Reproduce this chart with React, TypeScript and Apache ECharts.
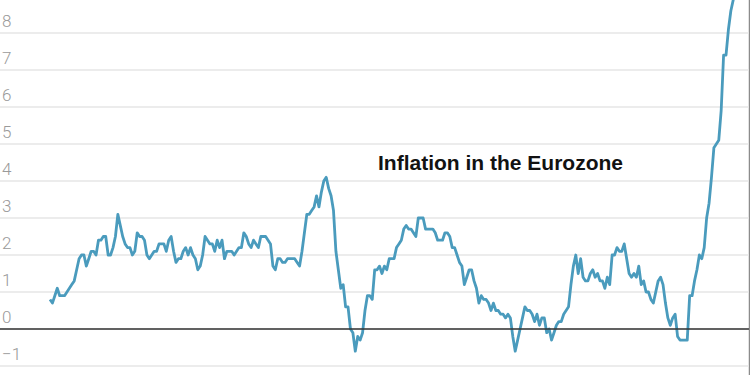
import React, { useEffect, useRef } from "react";
import * as echarts from "echarts";

// Euro area HICP, annual rate of change (%), monthly from Jan 1999
const y1999 = [0.8, 0.7, 0.9, 1.1, 0.9, 0.9, 0.9, 1.0, 1.1, 1.2, 1.3, 1.6];
const y2000 = [1.9, 2.0, 2.0, 1.7, 1.9, 2.1, 2.1, 2.0, 2.4, 2.4, 2.5, 2.5];
const y2001 = [2.0, 2.0, 2.2, 2.5, 3.1, 2.8, 2.5, 2.3, 2.2, 2.2, 2.0, 2.1];
const y2002 = [2.6, 2.5, 2.5, 2.4, 2.0, 1.9, 2.0, 2.1, 2.1, 2.3, 2.3, 2.3];
const y2003 = [2.1, 2.4, 2.5, 2.1, 1.8, 1.9, 1.9, 2.1, 2.2, 2.0, 2.2, 2.0];
const y2004 = [1.9, 1.6, 1.7, 2.0, 2.5, 2.4, 2.3, 2.3, 2.1, 2.4, 2.2, 2.4];
const y2005 = [1.9, 2.1, 2.1, 2.1, 2.0, 2.1, 2.2, 2.2, 2.6, 2.5, 2.3, 2.2];
const y2006 = [2.4, 2.3, 2.2, 2.5, 2.5, 2.5, 2.4, 2.3, 1.7, 1.6, 1.9, 1.9];
const y2007 = [1.8, 1.8, 1.9, 1.9, 1.9, 1.9, 1.8, 1.7, 2.1, 2.6, 3.1, 3.1];
const y2008 = [3.2, 3.3, 3.6, 3.3, 3.7, 4.0, 4.1, 3.8, 3.6, 3.2, 2.1, 1.6];
const y2009 = [1.1, 1.2, 0.6, 0.6, 0.0, -0.1, -0.6, -0.2, -0.3, -0.1, 0.5, 0.9];
const y2010 = [0.9, 0.8, 1.6, 1.6, 1.7, 1.5, 1.7, 1.6, 1.9, 1.9, 1.9, 2.2];
const y2011 = [2.3, 2.4, 2.7, 2.8, 2.7, 2.7, 2.6, 2.5, 3.0, 3.0, 3.0, 2.7];
const y2012 = [2.7, 2.7, 2.7, 2.6, 2.4, 2.4, 2.4, 2.6, 2.6, 2.5, 2.2, 2.2];
const y2013 = [2.0, 1.8, 1.7, 1.2, 1.4, 1.6, 1.6, 1.3, 1.1, 0.7, 0.9, 0.8];
const y2014 = [0.8, 0.7, 0.5, 0.7, 0.5, 0.5, 0.4, 0.4, 0.3, 0.4, 0.3, -0.2];
const y2015 = [-0.6, -0.3, 0.0, 0.3, 0.6, 0.5, 0.5, 0.4, 0.2, 0.4, 0.1, 0.3];
const y2016 = [0.3, -0.1, 0.0, -0.3, -0.1, 0.1, 0.2, 0.2, 0.4, 0.5, 0.6, 1.2];
const y2017 = [1.7, 2.0, 1.5, 1.9, 1.4, 1.3, 1.3, 1.5, 1.6, 1.4, 1.5, 1.3];
const y2018 = [1.3, 1.1, 1.4, 1.2, 2.0, 2.0, 2.2, 2.1, 2.1, 2.3, 1.9, 1.5];
const y2019 = [1.4, 1.5, 1.4, 1.7, 1.2, 1.3, 1.0, 1.0, 0.8, 0.7, 1.0, 1.3];
const y2020 = [1.4, 1.2, 0.7, 0.3, 0.1, 0.3, 0.4, -0.2, -0.3, -0.3, -0.3, -0.3];
const y2021 = [0.9, 0.9, 1.3, 1.6, 2.0, 1.9, 2.2, 3.0, 3.4, 4.1, 4.9, 5.0];
const y2022 = [5.1, 5.9, 7.4, 7.4, 8.1, 8.6, 8.9, 9.1];

const yTicks = [-2, -1, 0, 1, 2, 3, 4, 5, 6, 7, 8, 9];
const shownTicks = [-1, 0, 1, 2, 3, 4, 5, 6, 7, 8];
const title = "Inflation in the Eurozone";

const values = [
  ...y1999, ...y2000, ...y2001, ...y2002, ...y2003, ...y2004, ...y2005, ...y2006,
  ...y2007, ...y2008, ...y2009, ...y2010, ...y2011, ...y2012, ...y2013, ...y2014,
  ...y2015, ...y2016, ...y2017, ...y2018, ...y2019, ...y2020, ...y2021, ...y2022,
];

export default function App() {
  const ref = useRef<HTMLDivElement>(null);
  useEffect(() => {
    document.body.style.margin = "0";
    const chart = echarts.init(ref.current!, null, { renderer: "svg" });
    const pxPerMonth = 2.423;
    const firstX = 50;
    const rightEdge = 749;
    const pxPerUnit = 37;
    const zeroY = 329;
    const yMin = yTicks[0];
    const yMax = yTicks[yTicks.length - 1];
    chart.setOption({
      animation: false,
      grid: {
        left: 0,
        width: rightEdge,
        top: zeroY - yMax * pxPerUnit,
        height: (yMax - yMin) * pxPerUnit,
        outerBoundsMode: "none",
        containLabel: false,
      },
      xAxis: {
        type: "value",
        show: false,
        min: -firstX / pxPerMonth,
        max: (rightEdge - firstX) / pxPerMonth,
      },
      yAxis: {
        type: "value",
        min: yMin,
        max: yMax,
        interval: 1,
        axisLine: { show: false },
        axisTick: { show: false },
        splitLine: { lineStyle: { color: "#e6e6e6", width: 1.5 } },
        axisLabel: {
          inside: true,
          margin: 2,
          verticalAlign: "bottom",
          padding: [0, 0, 4, 0],
          color: "#9a9a9a",
          fontFamily: "Roboto",
          fontWeight: 300,
          fontSize: 17,
          formatter: (v: number) =>
            shownTicks.includes(v) ? (v < 0 ? "\u2212" + Math.abs(v) : String(v)) : "",
        },
      },
      series: [
        {
          type: "line",
          data: values.map((v, i) => [i, v]),
          symbol: "none",
          clip: true,
          lineStyle: { color: "#4a9bbd", width: 2.8, join: "round" },
          markLine: {
            silent: true,
            symbol: ["none", "none"],
            label: { show: false },
            lineStyle: { color: "#333333", width: 1.5, type: "solid" },
            data: [{ yAxis: 0 }],
          },
          z: 3,
        },
      ],
      graphic: [
        {
          type: "line",
          shape: { x1: 749.5, y1: 0, x2: 749.5, y2: 375 },
          style: { stroke: "#8c8c8c", lineWidth: 1.5 },
        },
        {
          type: "text",
          x: 378,
          y: 162,
          style: {
            text: title,
            fill: "#121212",
            font: "bold 21px 'Liberation Sans', Arial, sans-serif",
            verticalAlign: "middle",
            align: "left",
          },
        },
      ],
    });
    return () => chart.dispose();
  }, []);
  return <div ref={ref} style={{ width: 750, height: 375 }} />;
}
